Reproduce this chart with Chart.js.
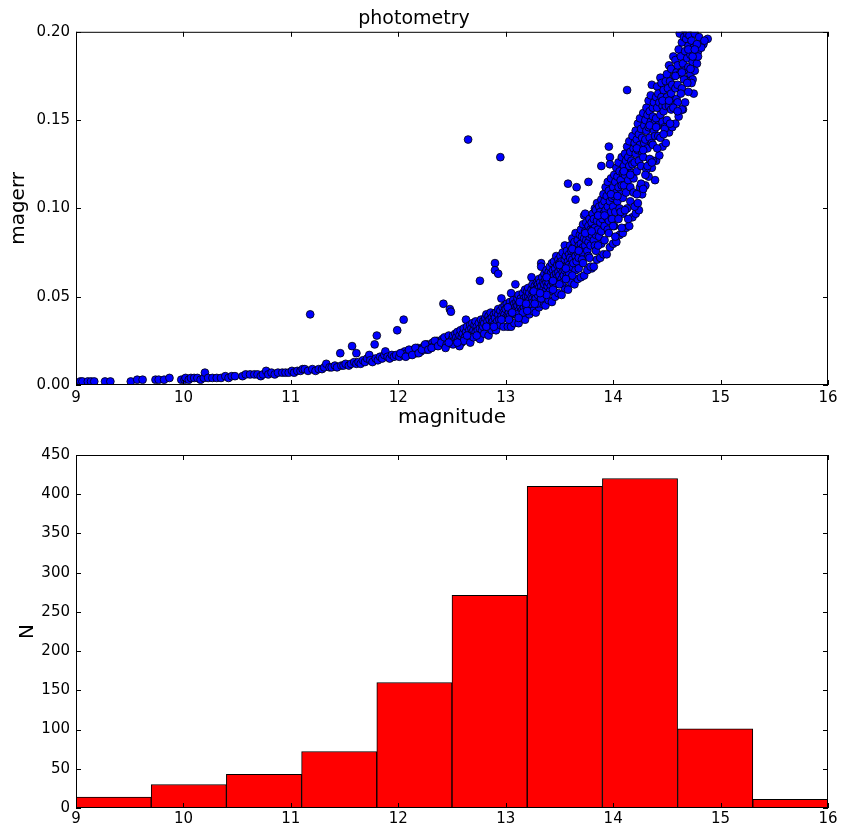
<!DOCTYPE html>
<html>
<head>
<meta charset="utf-8">
<script src="https://cdn.jsdelivr.net/npm/chart.js@4.4.1/dist/chart.umd.min.js"></script>
<style>
  body { margin: 0; background: #fff; }
  #marcoPagina { position: relative; width: 843px; height: 829px; }
  canvas { position: absolute; left: 0; }
</style>
</head>
<body>
<div id="marcoPagina">
  <canvas id="graficaPuntos" width="843" height="430" style="top:0;width:843px;height:430px"></canvas>
  <canvas id="graficaHisto" width="843" height="399" style="top:430px;width:843px;height:399px"></canvas>
</div>
<script>
// Datos de la fotometria: cada linea de magnitude va con la misma linea de magerr
const magnitude = [
  9.04, 9.06, 9.11, 9.14, 9.17, 9.27, 9.32, 9.51, 9.57, 9.62, 9.74, 9.77, 9.82, 9.87, 9.98, 10.01, 10.02, 10.05, 10.07,
  10.10, 10.13, 10.16, 10.19, 10.20, 10.23, 10.27, 10.31, 10.35, 10.39, 10.42, 10.45, 10.48, 10.55, 10.58, 10.62, 10.66, 10.69, 10.72, 10.74, 10.77, 10.79, 10.82, 10.85, 10.88, 10.92, 10.95, 10.98,
  11.01, 11.03, 11.06, 11.09, 11.11, 11.13, 11.16, 11.18, 11.20, 11.23, 11.26, 11.29, 11.31, 11.33, 11.36, 11.38, 11.41, 11.43, 11.46, 11.47, 11.49,
  11.51, 11.54, 11.56, 11.57, 11.59, 11.61, 11.61, 11.63, 11.65, 11.67, 11.69, 11.71, 11.73, 11.74, 11.76, 11.78, 11.79, 11.80, 11.81, 11.83, 11.85, 11.87, 11.88, 11.90, 11.92, 11.94, 11.96, 11.99, 11.98,
  12.01, 12.03, 12.05, 12.05, 12.06, 12.08, 12.09, 12.11, 12.12, 12.14, 12.15, 12.17, 12.18, 12.20, 12.21, 12.23, 12.24, 12.26, 12.27, 12.29, 12.30, 12.32, 12.33, 12.35, 12.36, 12.38, 12.39, 12.41, 12.42, 12.42, 12.44, 12.46, 12.48, 12.48, 12.49, 12.49,
  12.02, 12.07, 12.10, 12.13, 12.16, 12.19, 12.22, 12.25, 12.28, 12.31, 12.34, 12.37, 12.40, 12.43, 12.45, 12.47,
  12.50, 12.51, 12.52, 12.53, 12.54, 12.55, 12.56, 12.57, 12.58, 12.59, 12.59,
  12.60, 12.61, 12.62, 12.63, 12.63, 12.64, 12.65, 12.65, 12.66, 12.67, 12.68, 12.68, 12.69, 12.69,
  12.70, 12.71, 12.72, 12.72, 12.73, 12.74, 12.75, 12.76, 12.76, 12.77, 12.78, 12.78, 12.79, 12.79,
  12.80, 12.81, 12.82, 12.82, 12.83, 12.84, 12.85, 12.85, 12.86, 12.87, 12.87, 12.88, 12.89, 12.89,
  12.90, 12.90, 12.90, 12.91, 12.92, 12.93, 12.93, 12.93, 12.94, 12.95, 12.95, 12.96, 12.96, 12.97, 12.98, 12.98, 12.99, 12.99,
  13.00, 13.00, 13.01, 13.02, 13.02, 13.03, 13.04, 13.04, 13.05, 13.05, 13.06, 13.06, 13.07, 13.07, 13.08, 13.08, 13.09, 13.09, 13.09,
  13.10, 13.10, 13.11, 13.11, 13.12, 13.12, 13.13, 13.14, 13.14, 13.15, 13.15, 13.16, 13.16, 13.17, 13.17, 13.18, 13.18, 13.19, 13.19,
  13.20, 13.20, 13.21, 13.21, 13.22, 13.22, 13.23, 13.24, 13.24, 13.24, 13.25, 13.25, 13.26, 13.26, 13.27, 13.27, 13.28, 13.28, 13.29, 13.29,
  13.30, 13.30, 13.31, 13.31, 13.32, 13.32, 13.33, 13.33, 13.33, 13.34, 13.34, 13.35, 13.35, 13.36, 13.36, 13.37, 13.37, 13.38, 13.38, 13.39, 13.39,
  13.40, 13.40, 13.41, 13.41, 13.42, 13.42, 13.43, 13.43, 13.44, 13.44, 13.45, 13.45, 13.46, 13.46, 13.47, 13.47, 13.48, 13.48, 13.49, 13.49, 13.49,
  13.50, 13.50, 13.51, 13.51, 13.52, 13.52, 13.53, 13.53, 13.54, 13.54, 13.55, 13.55, 13.55, 13.56, 13.56, 13.57, 13.57, 13.58, 13.58, 13.58, 13.59, 13.59,
  13.60, 13.60, 13.61, 13.61, 13.62, 13.62, 13.63, 13.63, 13.64, 13.64, 13.65, 13.65, 13.65, 13.66, 13.66, 13.66, 13.67, 13.67, 13.68, 13.68, 13.69, 13.69,
  13.70, 13.70, 13.71, 13.71, 13.72, 13.72, 13.73, 13.73, 13.74, 13.74, 13.74, 13.75, 13.75, 13.76, 13.76, 13.77, 13.77, 13.77, 13.78, 13.78, 13.79, 13.79, 13.80,
  13.80, 13.80, 13.81, 13.81, 13.82, 13.82, 13.83, 13.83, 13.84, 13.84, 13.85, 13.85, 13.86, 13.86, 13.87, 13.87, 13.88, 13.88, 13.89, 13.89, 13.89,
  13.90, 13.90, 13.91, 13.91, 13.92, 13.92, 13.93, 13.93, 13.94, 13.94, 13.95, 13.95, 13.96, 13.96, 13.96, 13.97, 13.97, 13.97, 13.98, 13.98, 13.99, 13.99,
  14.00, 14.00, 14.01, 14.01, 14.02, 14.02, 14.03, 14.03, 14.04, 14.04, 14.05, 14.05, 14.06, 14.06, 14.07, 14.07, 14.08, 14.08, 14.09, 14.09, 14.09,
  14.10, 14.10, 14.11, 14.11, 14.12, 14.12, 14.13, 14.13, 14.13, 14.14, 14.14, 14.15, 14.15, 14.16, 14.16, 14.17, 14.17, 14.18, 14.18, 14.19, 14.19,
  14.20, 14.20, 14.21, 14.21, 14.22, 14.22, 14.23, 14.23, 14.24, 14.24, 14.25, 14.25, 14.26, 14.26, 14.27, 14.27, 14.28, 14.28, 14.29, 14.29,
  14.30, 14.30, 14.31, 14.31, 14.32, 14.32, 14.33, 14.33, 14.34, 14.34, 14.35, 14.35, 14.36, 14.36, 14.37, 14.37, 14.38, 14.38, 14.39, 14.39, 14.39,
  14.40, 14.40, 14.41, 14.41, 14.42, 14.42, 14.43, 14.44, 14.44, 14.45, 14.45, 14.46, 14.46, 14.47, 14.47, 14.48, 14.48, 14.49, 14.49,
  14.50, 14.50, 14.51, 14.52, 14.52, 14.53, 14.54, 14.54, 14.55, 14.56, 14.56, 14.57, 14.58, 14.58, 14.59, 14.59,
  14.60, 14.60, 14.61, 14.62, 14.62, 14.63, 14.64, 14.64, 14.65, 14.65, 14.66, 14.66, 14.67, 14.68, 14.68, 14.69, 14.69,
  14.70, 14.70, 14.71, 14.72, 14.72, 14.73, 14.74, 14.74, 14.75, 14.75, 14.76, 14.77, 14.78, 14.79, 14.80, 14.84, 14.88, 14.66, 14.71,
  // borde inferior de la banda
  12.44, 12.51, 12.57, 12.61, 12.67, 12.70, 12.76, 12.80, 12.84, 12.87,
  12.91, 12.95, 12.98, 13.02, 13.05, 13.08, 13.12, 13.15, 13.18, 13.22,
  13.25, 13.28, 13.31, 13.34, 13.37, 13.40, 13.43, 13.46, 13.49, 13.52,
  13.55, 13.58, 13.61, 13.64, 13.67, 13.70, 13.73, 13.76, 13.79, 13.82,
  13.85, 13.88, 13.91, 13.94, 13.97, 14.00, 14.03, 14.06, 14.09, 14.12,
  14.15, 14.18, 14.21, 14.24, 14.27, 14.30, 14.33, 14.36, 14.40, 14.43,
  14.46, 14.49, 14.52, 14.55, 14.58, 14.61, 14.64, 14.67, 14.70, 14.73,
  14.76, 14.79, 14.82, 14.85,
  // relleno entre el borde y el centro
  12.47, 12.55, 12.64, 12.73, 12.82, 12.89, 12.96, 13.03, 13.10, 13.16, 13.23, 13.29, 13.35, 13.41, 13.47, 13.53, 13.59, 13.65, 13.71,
  13.77, 13.83, 13.89, 13.95, 14.01, 14.07, 14.13, 14.19, 14.25, 14.31, 14.37, 14.42, 14.48, 14.54, 14.60, 14.66, 14.72, 14.78,
  13.62, 13.68, 13.72, 13.78, 13.84, 13.86, 13.92, 13.96, 14.00, 14.02, 14.05, 14.08, 14.11, 14.14, 14.16, 14.20, 14.22, 14.23,
  14.26, 14.28, 14.30, 14.32, 14.34, 14.36, 14.37, 14.41, 14.44, 14.47, 14.50, 14.53, 14.56, 14.60, 14.63, 14.69, 14.74,
  13.12, 13.20, 13.27, 13.33, 13.38, 13.44, 13.50, 13.56,
  // relleno del centro
  13.02, 13.06, 13.13, 13.19, 13.26, 13.32, 13.38, 13.44, 13.50, 13.56, 13.62, 13.68, 13.74, 13.80, 13.86,
  13.92, 13.98, 14.04, 14.10, 14.16, 14.22, 14.28, 14.34, 14.40, 14.46, 14.52, 14.58, 14.64, 14.70, 14.76
];
const magerr = [
  .002, .002, .002, .002, .002, .002, .002, .002, .003, .003, .003, .003, .003, .004, .003, .003, .004, .003, .004,
  .004, .004, .003, .004, .007, .004, .004, .004, .004, .005, .004, .005, .005, .005, .006, .006, .006, .006, .005, .006, .008, .006, .007, .006, .007, .007, .007, .007,
  .008, .007, .008, .008, .009, .009, .008, .040, .009, .008, .009, .009, .010, .012, .010, .010, .011, .010, .018, .011, .011,
  .012, .011, .012, .022, .013, .012, .018, .013, .012, .014, .013, .015, .017, .014, .013, .023, .015, .028, .014, .016, .015, .017, .019, .016, .015, .017, .016, .031, .017,
  .016, .018, .037, .017, .019, .018, .017, .019, .018, .020, .019, .018, .021, .020, .019, .021, .022, .020, .023, .021, .022, .024, .022, .023, .025, .023, .024, .026, .046, .025, .024, .026, .043, .027, .0415, .025,
  .018, .016, .020, .017, .021, .018, .020, .023, .020, .021, .025, .022, .024, .027, .023, .028,
  .026, .028, .025, .029, .027, .030, .026, .028, .031, .027, .024,
  .029, .032, .027, .037, .030, .033, .139, .028, .031, .034, .029, .032, .030, .035,
  .031, .034, .030, .036, .033, .031, .035, .059, .032, .037, .034, .031, .036, .033,
  .035, .038, .040, .033, .036, .039, .034, .037, .041, .035, .038, .036, .040, .034,
  .069, .065, .038, .041, .036, .063, .040, .043, .037, .129, .042, .049, .039, .044, .038, .041, .045, .040,
  .043, .038, .046, .040, .044, .041, .047, .039, .052, .043, .045, .041, .048, .044, .042, .046, .057, .044, .040,
  .047, .043, .049, .045, .042, .051, .046, .044, .049, .047, .042, .052, .046, .049, .044, .054, .047, .050, .045,
  .053, .047, .050, .055, .048, .052, .046, .061, .054, .050, .057, .049, .053, .047, .056, .051, .054, .049, .058, .052,
  .057, .051, .055, .060, .053, .058, .069, .067, .056, .052, .061, .058, .054, .063, .057, .060, .053, .065, .058, .062, .056,
  .064, .058, .061, .067, .056, .063, .069, .060, .065, .058, .062, .070, .059, .066, .073, .063, .068, .061, .071, .064, .058,
  .069, .062, .073, .066, .060, .070, .064, .075, .068, .062, .079, .071, .065, .073, .067, .062, .076, .114, .070, .066, .074, .068,
  .072, .079, .067, .076, .083, .071, .078, .069, .075, .081, .105, .073, .086, .112, .077, .070, .082, .075, .079, .072, .085, .077,
  .080, .088, .075, .084, .091, .078, .096, .083, .097, .079, .087, .082, .092, .076, .086, .115, .090, .081, .094, .084, .088, .079, .066,
  .092, .085, .097, .088, .082, .094, .100, .089, .099, .085, .093, .103, .088, .096, .084, .101, .092, .098, .124, .087, .105,
  .102, .094, .108, .097, .090, .104, .112, .099, .095, .107, .115, .101, .135, .093, .110, .129, .125, .104, .098, .117, .106, .094,
  .112, .101, .119, .107, .098, .115, .123, .109, .104, .118, .126, .112, .100, .121, .108, .116, .129, .113, .106, .120, .097,
  .124, .113, .131, .119, .109, .127, .167, .135, .121, .116, .129, .138, .124, .112, .132, .120, .127, .141, .125, .117, .134,
  .137, .126, .144, .131, .121, .139, .148, .133, .127, .142, .151, .136, .124, .145, .132, .140, .154, .129, .137, .147,
  .150, .139, .157, .144, .134, .153, .161, .146, .140, .155, .164, .149, .170, .137, .157, .152, .144, .160, .116, .149, .141,
  .163, .151, .169, .157, .147, .165, .160, .174, .153, .171, .163, .149, .158, .167, .155, .161, .146, .172, .158,
  .176, .163, .168, .181, .158, .172, .165, .179, .170, .186, .161, .175, .184, .168, .177, .162,
  .181, .170, .190, .199, .176, .186, .194, .168, .156, .182, .197, .178, .189, .196, .173, .185, .199,
  .192, .180, .198, .187, .176, .195, .173, .183, .165, .191, .199, .186, .182, .189, .197, .193, .196, .202, .203,
  // borde inferior de la banda
  .021, .023, .022, .025, .024, .027, .026, .029, .028, .031,
  .031, .034, .033, .033, .033, .035, .035, .038, .037, .040,
  .042, .041, .044, .046, .045, .048, .047, .050, .052, .051,
  .055, .054, .058, .057, .060, .061, .062, .065, .067, .067,
  .071, .072, .074, .074, .078, .080, .081, .085, .086, .089,
  .090, .095, .097, .099, .108, .113, .118, .123, .127, .130,
  .135, .137, .143, .146, .148, .152, .156, .160, .166, .171,
  .178, .186, .191, .195,
  // relleno entre el borde y el centro
  .024, .024, .028, .028, .033, .033, .037, .037, .040, .041, .046, .046, .051, .053, .057, .058, .063, .065, .071,
  .073, .079, .080, .088, .090, .098, .100, .109, .112, .122, .127, .141, .145, .156, .160, .173, .179, .193,
  .062, .066, .069, .072, .076, .079, .082, .086, .090, .084, .094, .089, .099, .094, .104, .101, .108, .103,
  .114, .111, .119, .124, .128, .126, .136, .134, .140, .142, .150, .148, .157, .155, .165, .171, .186,
  .038, .042, .046, .049, .051, .054, .057, .060,
  // relleno del centro
  .044, .041, .047, .046, .053, .052, .061, .059, .068, .066, .077, .076, .086, .087, .096,
  .096, .108, .107, .121, .119, .134, .133, .147, .146, .161, .161, .175, .177, .190, .190
];

// Histograma: bordes de las barras y cuentas
const bordesBins = [9, 9.7, 10.4, 11.1, 11.8, 12.5, 13.2, 13.9, 14.6, 15.3, 16];
const cuentas = [14, 30, 43, 72, 160, 271, 410, 420, 101, 11];

// Etiquetas de los ejes
const ticksMag = [9, 10, 11, 12, 13, 14, 15, 16];
const ticksErr = [0, 0.05, 0.10, 0.15, 0.20];
const ticksN = [0, 50, 100, 150, 200, 250, 300, 350, 400, 450];

Chart.defaults.font.family = "'DejaVu Sans', sans-serif";
Chart.defaults.color = '#000';

//Marco negro y ticks hacia dentro, como en matplotlib
const marco = {
    id: 'marco',
    afterDatasetsDraw(chart) {
        const {ctx, chartArea: a, scales} = chart;
        ctx.save();
        ctx.strokeStyle = '#000';
        ctx.lineWidth = 1;
        ctx.beginPath();
        scales.x.ticks.forEach(t => {
            const px = Math.round(scales.x.getPixelForValue(t.value)) + 0.5;
            ctx.moveTo(px, a.bottom); ctx.lineTo(px, a.bottom - 5);
            ctx.moveTo(px, a.top); ctx.lineTo(px, a.top + 5);
        });
        scales.y.ticks.forEach(t => {
            const py = Math.round(scales.y.getPixelForValue(t.value)) + 0.5;
            ctx.moveTo(a.left, py); ctx.lineTo(a.left + 5, py);
            ctx.moveTo(a.right, py); ctx.lineTo(a.right - 5, py);
        });
        ctx.stroke();
        ctx.strokeRect(a.left + 0.5, a.top + 0.5, a.width - 1, a.height - 1);
        ctx.restore();
    }
};

const fijarTicks = (lista) => (scale) => { scale.ticks = lista.map(v => ({value: v})); };

//Grafica de dispersion
const puntos = magnitude.map((m, i) => ({x: m, y: magerr[i]}));
new Chart(document.getElementById('graficaPuntos').getContext('2d'), {
    type: 'scatter',
    data: {
        datasets: [{
            data: puntos,
            pointRadius: 3.9,
            pointBackgroundColor: '#0000ff',
            pointBorderColor: '#000',
            pointBorderWidth: 0.8,
            clip: 0
        }]
    },
    options: {
        responsive: false,
        animation: false,
        layout: { autoPadding: false, padding: { left: 0, right: 15, top: 0, bottom: 0 } },
        plugins: {
            legend: { display: false },
            tooltip: { enabled: false },
            title: {
                display: true,
                text: 'photometry',
                color: '#000',
                font: { size: 19, weight: 'normal' },
                padding: { top: 8, bottom: 1 }
            }
        },
        scales: {
            x: {
                type: 'linear', min: 9, max: 16,
                afterBuildTicks: fijarTicks(ticksMag),
                grid: { display: false, drawTicks: false },
                border: { display: false },
                ticks: { font: { size: 15 }, padding: 4, maxRotation: 0 },
                title: { display: true, text: 'magnitude', font: { size: 20 }, padding: { top: 0, bottom: 0 } },
                afterFit: s => { s.height = 45; }
            },
            y: {
                type: 'linear', min: 0, max: 0.2,
                afterBuildTicks: fijarTicks(ticksErr),
                grid: { display: false, drawTicks: false },
                border: { display: false },
                ticks: { font: { size: 15 }, padding: 6, callback: v => Number(v).toFixed(2) },
                title: { display: true, text: 'magerr', font: { size: 20 }, padding: { top: 7, bottom: 0 } },
                afterFit: s => { s.width = 76; }
            }
        }
    },
    plugins: [marco]
});

//Histograma
const centros = cuentas.map((n, i) => (bordesBins[i] + bordesBins[i + 1]) / 2);
new Chart(document.getElementById('graficaHisto').getContext('2d'), {
    type: 'bar',
    data: {
        datasets: [{
            data: cuentas.map((n, i) => ({x: centros[i], y: n})),
            backgroundColor: '#ff0000',
            borderColor: '#000',
            borderWidth: 1,
            borderSkipped: 'start',
            barPercentage: 1,
            categoryPercentage: 1
        }]
    },
    options: {
        responsive: false,
        animation: false,
        layout: { autoPadding: false, padding: { left: 0, right: 15, top: 25, bottom: 0 } },
        plugins: { legend: { display: false }, tooltip: { enabled: false } },
        scales: {
            x: {
                type: 'linear', min: 9, max: 16, offset: false,
                afterBuildTicks: fijarTicks(ticksMag),
                grid: { display: false, drawTicks: false },
                border: { display: false },
                ticks: { font: { size: 15 }, padding: 2, maxRotation: 0 },
                afterFit: s => { s.height = 21; }
            },
            y: {
                type: 'linear', min: 0, max: 450,
                afterBuildTicks: fijarTicks(ticksN),
                grid: { display: false, drawTicks: false },
                border: { display: false },
                ticks: { font: { size: 15 }, padding: 6 },
                title: { display: true, text: 'N', font: { size: 20 }, padding: { top: 16, bottom: 0 } },
                afterFit: s => { s.width = 76; }
            }
        }
    },
    plugins: [marco]
});
</script>
</body>
</html>
